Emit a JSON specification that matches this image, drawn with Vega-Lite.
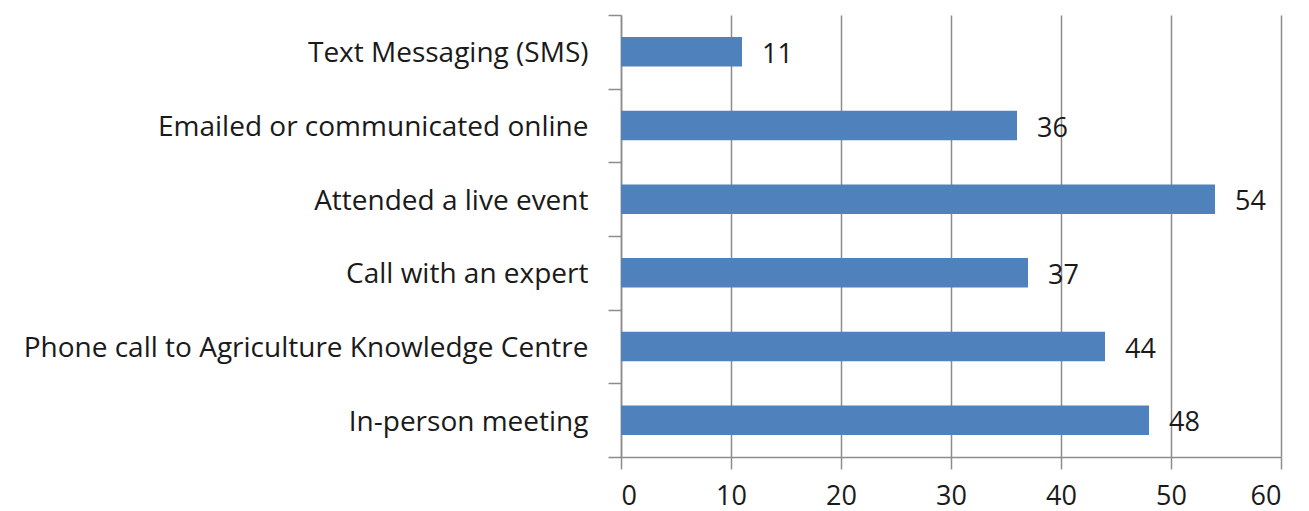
{
  "$schema": "https://vega.github.io/schema/vega-lite/v6.json",
  "autosize": "none",
  "width": 660,
  "height": 442,
  "padding": {"left": 621, "top": 15, "right": 28, "bottom": 54},
  "background": "white",
  "config": {"view": {"stroke": null}, "font": "Open Sans"},
  "data": {"values": [
    {"channel": "Text Messaging (SMS)", "value": 11},
    {"channel": "Emailed or communicated online", "value": 36},
    {"channel": "Attended a live event", "value": 54},
    {"channel": "Call with an expert", "value": 37},
    {"channel": "Phone call to Agriculture Knowledge Centre", "value": 44},
    {"channel": "In-person meeting", "value": 48}
  ]},
  "encoding": {
    "y": {"field": "channel", "type": "nominal", "sort": null,
      "scale": {"paddingInner": 0, "paddingOuter": 0},
      "axis": {"title": null, "tickBand": "extent", "tickSize": 13, "labelPadding": 20, "labelOffset": 2,
        "labelFontSize": 28, "labelColor": "#1a1a1a", "labelLimit": 700,
        "domainColor": "#8c8c8c", "domainWidth": 1.5, "tickColor": "#8c8c8c", "tickWidth": 1.5, "grid": false}},
    "x": {"field": "value", "type": "quantitative",
      "scale": {"domain": [0, 60], "nice": false},
      "axis": {"title": null, "values": [0, 10, 20, 30, 40, 50, 60], "tickSize": 12, "labelPadding": 14,
        "labelFontSize": 27, "labelColor": "#1a1a1a", "grid": true, "gridColor": "#8c8c8c", "gridWidth": 1.5,
        "domainColor": "#8c8c8c", "domainWidth": 1.5, "tickColor": "#8c8c8c", "tickWidth": 1.5}}
  },
  "layer": [
    {"mark": {"type": "bar", "color": "#4F81BD", "height": {"band": 0.4}}},
    {"mark": {"type": "text", "align": "left", "baseline": "middle", "dx": 20, "dy": 3, "fontSize": 27, "color": "#1a1a1a"},
     "encoding": {"text": {"field": "value", "type": "quantitative"}}}
  ]
}
